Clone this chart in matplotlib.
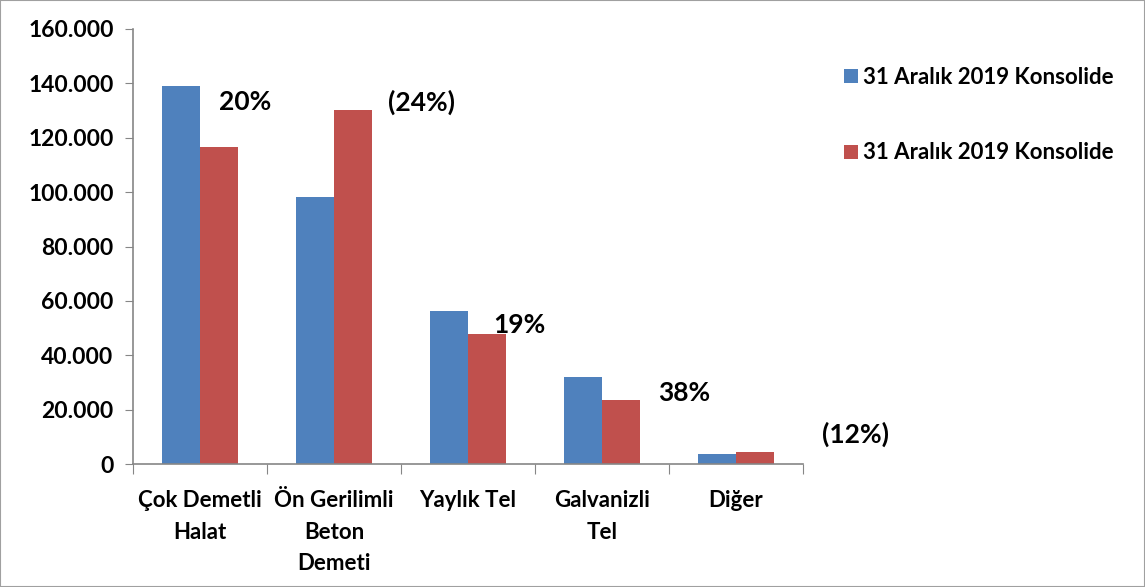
import numpy as np
import matplotlib.pyplot as plt
from matplotlib.patches import Rectangle

categories = ["Çok Demetli\nHalat", "Ön Gerilimli\nBeton\nDemeti", "Yaylık Tel", "Galvanizli\nTel", "Diğer"]
series1 = [139000, 98200, 56200, 32000, 3700]
series2 = [116500, 130100, 47800, 23500, 4400]
labels = ["31 Aralık 2019 Konsolide", "31 Aralık 2019 Konsolide"]
pct_labels = ["20%", "(24%)", "19%", "38%", "(12%)"]
yticks = [0, 20000, 40000, 60000, 80000, 100000, 120000, 140000, 160000]

# where the percentage labels sit (data coords)
pct_x = [0.34, 1.65, 2.38, 3.61, 4.89]
pct_y = [133000, 133000, 51000, 26000, 11000]

plt.rcParams['font.family'] = ['Lato', 'DejaVu Sans']
plt.rcParams['font.weight'] = 'bold'

blue = '#4f81bd'
red = '#c0504d'
grey = '#868686'

fig = plt.figure(figsize=(11.45, 5.87), dpi=100)
ax = fig.add_axes([0.1162, 0.2095, 0.5851, 0.7411])

x = np.arange(len(categories))
w = 0.287
b1 = ax.bar(x - w/2, series1, w, color=blue, label=labels[0])
b2 = ax.bar(x + w/2, series2, w, color=red, label=labels[1])

ax.set_xlim(-0.5, 4.5)
ax.set_ylim(0, 160000)
ax.set_yticks(yticks)
ax.set_yticklabels([f"{v:,}".replace(",", ".") for v in yticks], fontsize=16.5, fontweight='bold')
ax.set_xticks(np.arange(-0.5, 5, 1))
ax.set_xticklabels([])
ax.set_xticks(x, minor=True)
ax.set_xticklabels(categories, minor=True, fontsize=16, fontweight='bold', linespacing=1.6, va='top')
ax.tick_params(axis='x', which='minor', length=0, pad=19)
ax.tick_params(axis='x', which='major', length=7, color=grey, direction='out')
ax.tick_params(axis='y', length=6, color=grey, direction='out', pad=8)

for s in ['top', 'right']:
    ax.spines[s].set_visible(False)
for s in ['left', 'bottom']:
    ax.spines[s].set_color(grey)
    ax.spines[s].set_linewidth(1.2)

for t, px, py in zip(pct_labels, pct_x, pct_y):
    ax.text(px, py, t, ha='center', va='center', fontsize=19, fontweight='bold', clip_on=False)

fig.legend(handles=[b1, b2], loc='upper left', bbox_to_anchor=(0.72, 0.92), frameon=False,
           handlelength=0.6, handleheight=0.6, handletextpad=0.25,
           labelspacing=2.45, prop={'weight': 'bold', 'size': 16})

fig.patches.append(Rectangle((0, 0), 1, 1, transform=fig.transFigure, fill=False,
                             edgecolor='#a0a0a0', linewidth=1.5))

fig.savefig('out.png', dpi=100)
